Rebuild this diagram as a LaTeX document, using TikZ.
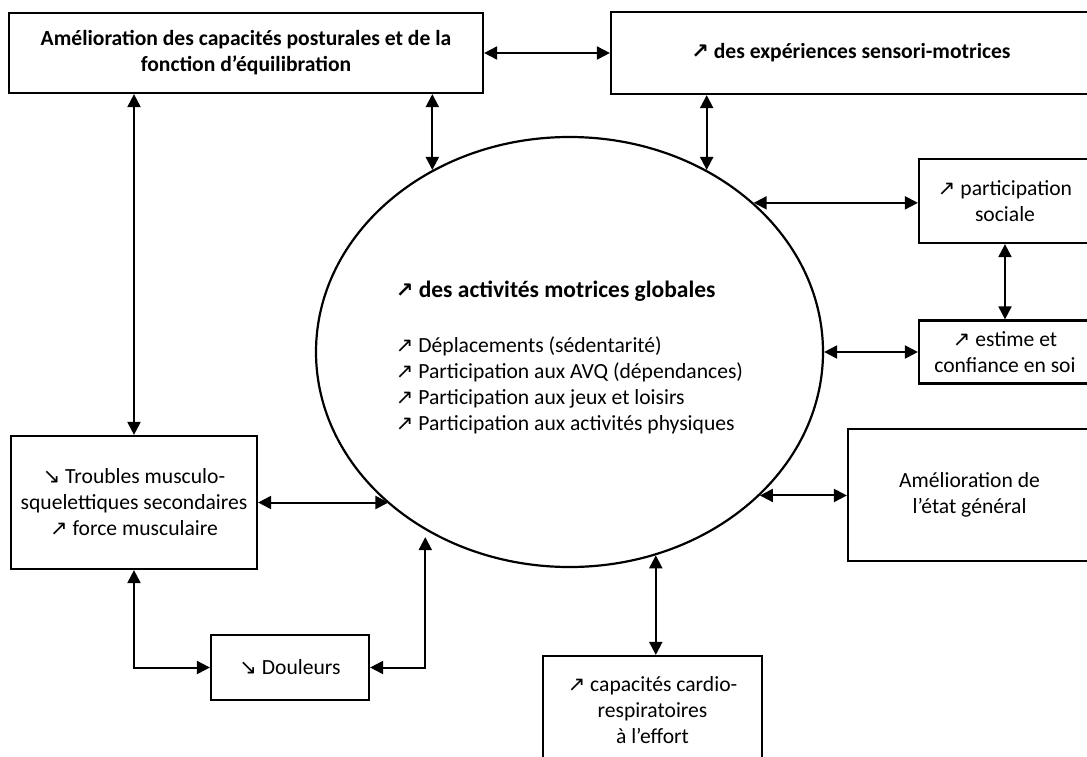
\documentclass[tikz,border=0pt]{standalone}
\usepackage{fontspec}
\setmainfont{Carlito}
\newfontfamily\flechefont{DejaVu Sans}
\usetikzlibrary{arrows.meta, shapes.geometric, positioning}
\newcommand{\hausse}{{\flechefont\fontsize{21}{21}\selectfont ↗}}
\newcommand{\baisse}{{\flechefont\fontsize{21}{21}\selectfont ↘}}

\begin{document}
\begin{tikzpicture}[x=1pt, y=-1pt, >={Triangle[length=13pt, width=13pt]},
    every node/.style={font=\fontsize{21.6}{26}\selectfont, align=center},
    titre/.style={font=\fontsize{21.6}{26}\selectfont\bfseries},
    boite/.style={draw, line width=2.2pt, inner sep=2pt},
    lien/.style={<->, line width=2pt}]

    \useasboundingbox (0,0) rectangle (1087,756);

    % Centre : activités motrices
    \node[draw, ellipse, line width=2.2pt, minimum width=507pt, minimum height=430pt, inner sep=0pt, align=left] (act) at (569.5,352)
        {\rule{0pt}{28pt}{\fontsize{23.5}{26}\selectfont\bfseries\hausse\ des activités motrices globales}\\[29pt]
         \hausse\ Déplacements (sédentarité)\\
         \hausse\ Participation aux AVQ (dépendances)\\
         \hausse\ Participation aux jeux et loisirs\\
         \hausse\ Participation aux activités physiques};

    % --- BOITES ---

    % Haut
    \node[boite, titre, minimum width=474pt, minimum height=80pt] (postur) at (246,53)
        {Amélioration des capacités posturales et de la\\fonction d’équilibration};
    \node[boite, titre, minimum width=480pt, minimum height=82pt] (sensori) at (851,53)
        {\hausse\ des expériences sensori-motrices};

    % Droite
    \node[boite, minimum width=172pt, minimum height=84pt] (partsoc) at (1005,201)
        {\hausse\ participation\\sociale};
    \node[boite, minimum width=172pt, minimum height=63pt] (estime) at (1005,352)
        {\hausse\ estime et\\confiance en soi};
    \node[boite, minimum width=243pt, minimum height=132pt] (etat) at (969.5,495)
        {Amélioration de\\l’état général};

    % Bas
    \node[boite, minimum width=219pt, minimum height=108pt] (capac) at (652.5,710)
        {\hausse\ capacités cardio-\\respiratoires\\à l’effort};

    % Gauche
    \node[boite, minimum width=246pt, minimum height=133pt] (troubles) at (134,502.5)
        {\baisse\ Troubles musculo-\\squelettiques secondaires\\\hausse\ force musculaire};
    \node[boite, minimum width=158pt, minimum height=65pt] (douleurs) at (290,667.5)
        {\baisse\ Douleurs};

    % --- LIENS ---
    \draw[lien] (postur.east) -- (sensori.west);
    \draw[lien] (act.127.4 |- postur.south) -- (act.127.4);
    \draw[lien] (act.53.2 |- sensori.south) -- (act.53.2);
    \draw[lien] (act.39.9) -- (act.39.9 -| partsoc.west);
    \draw[lien] (partsoc.south) -- (estime.north);
    \draw[lien] (act.east) -- (act.east -| estime.west);
    \draw[lien] (act.-37.4) -- (act.-37.4 -| etat.west);
    \draw[lien] (act.-67.5) -- (act.-67.5 |- capac.north);
    \draw[lien] (troubles.north |- postur.south) -- (troubles.north);
    \draw[lien] (troubles.east) -- (troubles.east -| act.-140.2);
    \draw[lien] (troubles.south) |- (douleurs.west);
    \draw[lien, shorten >=7pt] (douleurs.east) -| (act.-129.2);

\end{tikzpicture}
\end{document}
